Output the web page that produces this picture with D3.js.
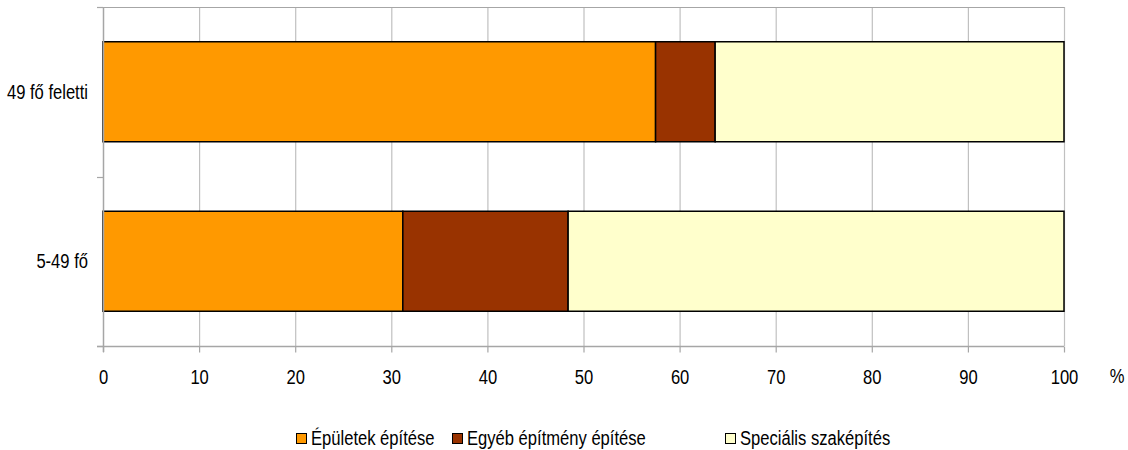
<!DOCTYPE html>
<html><head><meta charset="utf-8">
<script src="https://cdn.jsdelivr.net/npm/d3@7"></script>
<style>
body{margin:0;background:#fff;}
text{font-family:"Liberation Sans",Arial,sans-serif;fill:#000;}
</style></head>
<body><svg id="c" width="1128" height="450"></svg>
<script>
const categories = ["49 fő feletti", "5-49 fő"];
const seriesNames = ["Épületek építése", "Egyéb építmény építése", "Speciális szaképítés"];
const epuletek = [57.5, 31.2];
const egyeb = [6.2, 17.2];
const specialis = [36.3, 51.6];
const colors = ["#FF9900", "#993300", "#FFFFCC"];
const xTicks = [0,10,20,30,40,50,60,70,80,90,100];

const SX = 0.79, FS = 21;
const svg = d3.select("#c");
const L = 103, R = 1064, T = 7, B = 346;
const x = d3.scaleLinear().domain([0,100]).range([L,R]);
const y = d3.scaleBand().domain(categories).range([T,B]).paddingInner(0.41).paddingOuter(0.205);

function narrow(sel, px, py, anchor){
  sel.attr("transform", (d,i)=>`translate(${px(d,i)},${py(d,i)}) scale(${SX},1)`)
    .attr("x",0).attr("y",0).attr("text-anchor",anchor).attr("font-size",FS);
}

// gridlines
svg.append("g").selectAll("line").data(xTicks.slice(1)).join("line")
  .attr("x1", d=>x(d)+0.5).attr("x2", d=>x(d)+0.5).attr("y1", T).attr("y2", B)
  .attr("stroke", "#c0c0c0").attr("stroke-width", 1.2);
// top border
svg.append("line").attr("x1", L-6).attr("x2", R+0.5).attr("y1", T+0.5).attr("y2", T+0.5)
  .attr("stroke", "#a6a6a6").attr("stroke-width", 1.2);

const series = [epuletek, egyeb, specialis];
const stack = categories.map((c,i)=>{
  let acc = 0;
  return series.map((s,k)=>{ const r = {cat:c, k, x0:acc, x1:acc+s[i]}; acc += s[i]; return r; });
}).flat();

svg.append("g").selectAll("rect").data(stack).join("rect")
  .attr("x", d=>x(d.x0)).attr("width", d=>x(d.x1)-x(d.x0))
  .attr("y", d=>y(d.cat)).attr("height", y.bandwidth())
  .attr("fill", d=>colors[d.k]).attr("stroke", "#000").attr("stroke-width", 1.5);

// x axis
const xa = svg.append("g").attr("transform", `translate(0,${B+0.5})`)
  .call(d3.axisBottom(x).tickValues(xTicks).tickSize(6).tickFormat(d3.format("d")));
xa.select(".domain").attr("stroke", "#a6a6a6").attr("stroke-width", 1.5).attr("d", `M${L-6},0H${R}`);
xa.selectAll(".tick line").attr("stroke", "#a6a6a6").attr("stroke-width", 1.2);
xa.selectAll(".tick text").attr("dy", null).attr("font-family", null)
  .attr("transform", `translate(0,${383-B}) scale(${SX},1)`).attr("x",0).attr("y",0)
  .attr("font-size", FS).attr("text-anchor","middle");

svg.append("text").datum("%").call(narrow, ()=>1117, ()=>383, "middle").text("%");

// y axis
svg.append("line").attr("x1", L+0.5).attr("x2", L+0.5).attr("y1", T).attr("y2", B+6)
  .attr("stroke", "#a6a6a6").attr("stroke-width", 1.5);
const bounds = [T, (T+B)/2, B];
svg.append("g").selectAll("line").data(bounds).join("line")
  .attr("x1", L-6).attr("x2", L).attr("y1", d=>Math.round(d)+0.5).attr("y2", d=>Math.round(d)+0.5)
  .attr("stroke", "#a6a6a6").attr("stroke-width", 1.2);
svg.append("g").selectAll("text").data(categories).join("text")
  .call(narrow, ()=>88, d=>y(d)+y.bandwidth()/2+7, "end").text(d=>d);

// legend
const legX = [296, 452, 725];
const lg = svg.append("g").selectAll("g").data(seriesNames).join("g")
  .attr("transform", (d,i)=>`translate(${legX[i]},433)`);
lg.append("rect").attr("width",10).attr("height",10).attr("x",0.5).attr("y",0.5)
  .attr("fill",(d,i)=>colors[i]).attr("stroke","#000").attr("stroke-width",1);
lg.append("text").call(narrow, ()=>15, ()=>12, "start").text(d=>d);
</script></body></html>
